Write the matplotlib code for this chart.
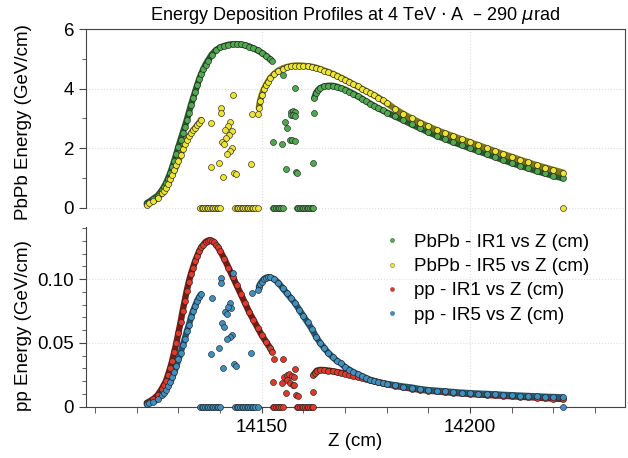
import numpy as np
import matplotlib
matplotlib.use("Agg")
from matplotlib import pyplot as plt
from matplotlib.ticker import MultipleLocator

plt.rcParams['font.family'] = ['Liberation Sans', 'DejaVu Sans']
plt.rcParams['mathtext.fontset'] = 'dejavusans'

# ---- data (z in cm, energy in GeV/cm) ----

# PbPb IR1 (green)
pbpb_ir1_seg1 = [(14122.4, 0.15), (14123, 0.2), (14124, 0.3), (14125, 0.4), (14126, 0.58), (14126.5, 0.69),
                 (14127, 0.82), (14127.5, 0.98), (14128, 1.15), (14128.5, 1.36), (14129, 1.58), (14129.5, 1.81),
                 (14130, 2.05), (14130.5, 2.28), (14131, 2.5), (14131.5, 2.72), (14132, 2.95), (14132.5, 3.2),
                 (14133, 3.45), (14133.5, 3.68), (14134, 3.9), (14134.5, 4.12), (14135, 4.33), (14135.5, 4.51),
                 (14136, 4.67), (14136.5, 4.81), (14137, 4.93), (14138, 5.15), (14139, 5.3), (14140, 5.39),
                 (14141, 5.44), (14142, 5.48), (14143, 5.5), (14144, 5.5), (14145, 5.49), (14146, 5.46),
                 (14147, 5.42), (14148, 5.36), (14149, 5.29), (14150, 5.21), (14151, 5.11), (14152, 4.99),
                 (14152.4, 4.94)]
pbpb_ir1_seg2 = [(14162.6, 3.68), (14163, 3.85), (14163.5, 3.95), (14164, 4.02), (14165, 4.08), (14166, 4.1),
                 (14167, 4.1), (14168, 4.07), (14169, 4.02), (14170, 3.97), (14171, 3.9), (14172, 3.83),
                 (14173, 3.75), (14174, 3.67), (14175, 3.58), (14176, 3.5), (14177, 3.42), (14178, 3.34),
                 (14179, 3.27), (14180, 3.2), (14182, 3.07), (14184, 2.94), (14186, 2.8), (14188, 2.67),
                 (14190, 2.54), (14192, 2.42), (14194, 2.31), (14196, 2.2), (14198, 2.1), (14200, 2.0),
                 (14202, 1.9), (14204, 1.8), (14206, 1.7), (14208, 1.6), (14210, 1.5), (14212, 1.41),
                 (14214, 1.32), (14216, 1.23), (14218, 1.15), (14220, 1.07), (14222.3, 0.99)]
pbpb_ir1_scatter = [(14155.2, 4.46), (14158.1, 4.04), (14162.6, 3.2), (14157.0, 3.23), (14157.5, 3.25),
                    (14157.9, 3.22), (14157.0, 3.12), (14157.6, 3.1), (14158.0, 3.08), (14155.5, 2.87),
                    (14156.1, 2.69), (14152.6, 2.22), (14154.9, 2.14), (14156.8, 2.28), (14157.3, 2.28),
                    (14157.9, 2.25), (14162.2, 1.49), (14155.8, 1.3), (14158.2, 1.2), (14158.5, 1.16)]

# PbPb IR5 (yellow)
pbpb_ir5_seg1 = [(14122.4, 0.1), (14123, 0.14), (14124, 0.22), (14125, 0.33), (14126, 0.48), (14126.5, 0.56),
                 (14127, 0.66), (14127.5, 0.8), (14128, 0.95), (14128.5, 1.1), (14129, 1.25), (14129.5, 1.42),
                 (14130, 1.58), (14130.5, 1.78), (14131, 1.98), (14131.5, 2.14), (14132, 2.28), (14132.5, 2.4),
                 (14133, 2.5), (14133.5, 2.6), (14134, 2.68), (14134.5, 2.77), (14135, 2.86), (14135.4, 2.95)]
pbpb_ir5_seg2 = [(14149.3, 3.35), (14149.6, 3.6), (14150, 3.8), (14150.5, 3.98), (14151, 4.12), (14151.5, 4.24),
                 (14152, 4.35), (14153, 4.5), (14154, 4.61), (14155, 4.68), (14156, 4.73), (14157, 4.76),
                 (14158, 4.78), (14159, 4.78), (14160, 4.77), (14161, 4.76), (14162, 4.74), (14163, 4.71),
                 (14164, 4.66), (14165, 4.61), (14166, 4.56), (14167, 4.5), (14168, 4.44), (14169, 4.37),
                 (14170, 4.3), (14171, 4.23), (14172, 4.15), (14173, 4.08), (14174, 4.0), (14175, 3.93),
                 (14176, 3.85), (14177, 3.78), (14178, 3.7), (14179, 3.61), (14180, 3.52), (14182, 3.32),
                 (14184, 3.15), (14186, 3.0), (14188, 2.86), (14190, 2.73), (14192, 2.61), (14194, 2.5),
                 (14196, 2.4), (14198, 2.3), (14200, 2.2), (14202, 2.1), (14204, 2.0), (14206, 1.9),
                 (14208, 1.8), (14210, 1.71), (14212, 1.61), (14214, 1.52), (14216, 1.43), (14218, 1.35),
                 (14220, 1.27), (14222.3, 1.18)]
pbpb_ir5_scatter = [(14137.9, 2.84), (14140.2, 3.36), (14140.2, 3.2), (14143.0, 3.79), (14142.4, 2.89),
                    (14141.8, 2.76), (14141.2, 2.61), (14142.8, 2.58), (14142.2, 2.45), (14141.4, 2.33),
                    (14140.4, 2.2), (14141.0, 2.14), (14142.9, 2.0), (14142.4, 1.92), (14141.7, 1.81),
                    (14137.8, 1.36), (14139.8, 1.49), (14140.8, 1.02), (14143.3, 1.18), (14143.8, 1.12),
                    (14147.4, 1.47), (14147.6, 3.14), (14149.1, 3.14)]

# pp IR1 (red)
pp_ir1_seg1 = [(14122.4, 0.003), (14123, 0.004), (14124, 0.006), (14125, 0.009), (14126, 0.014), (14126.5, 0.017),
               (14127, 0.02), (14127.5, 0.025), (14128, 0.03), (14128.5, 0.036), (14129, 0.043), (14129.5, 0.05),
               (14130, 0.058), (14130.5, 0.066), (14131, 0.075), (14131.5, 0.083), (14132, 0.091), (14132.5, 0.098),
               (14133, 0.104), (14133.5, 0.109), (14134, 0.114), (14134.5, 0.118), (14135, 0.122), (14135.5, 0.125),
               (14136, 0.127), (14136.5, 0.129), (14137, 0.13), (14137.5, 0.1305), (14138, 0.13), (14138.5, 0.129),
               (14139, 0.127), (14139.5, 0.125), (14140, 0.122), (14141, 0.116), (14142, 0.109), (14143, 0.102),
               (14144, 0.095), (14145, 0.088), (14146, 0.081), (14147, 0.074), (14148, 0.068), (14149, 0.062),
               (14150, 0.056), (14151, 0.051), (14152, 0.046), (14152.5, 0.043)]
pp_ir1_seg2 = [(14162.4, 0.0248), (14162.8, 0.0265), (14163.2, 0.0282), (14164, 0.0288), (14165, 0.0287),
               (14166, 0.0283), (14167, 0.0278), (14168, 0.0272), (14169, 0.0266), (14170, 0.026), (14171, 0.0252),
               (14172, 0.0243), (14173, 0.0235), (14174, 0.0228), (14175, 0.022), (14176, 0.021), (14177, 0.0201),
               (14178, 0.0193), (14179, 0.0185), (14180, 0.0177), (14182, 0.0164), (14184, 0.0152), (14186, 0.0142),
               (14188, 0.0133), (14190, 0.0126), (14192, 0.012), (14194, 0.0114), (14196, 0.0109), (14198, 0.0104),
               (14200, 0.01), (14202, 0.0096), (14204, 0.0092), (14206, 0.0089), (14208, 0.0085), (14210, 0.0082),
               (14212, 0.0078), (14214, 0.0075), (14216, 0.0071), (14218, 0.0068), (14220, 0.0064), (14222.4, 0.006)]
pp_ir1_scatter = [(14152.95, 0.0371), (14155.2, 0.0374), (14158.1, 0.0295), (14155.4, 0.0235), (14156.1, 0.0248),
                  (14156.6, 0.0254), (14157.2, 0.0241), (14157.8, 0.023), (14156.0, 0.0209), (14156.8, 0.0188),
                  (14157.4, 0.017), (14157.8, 0.017), (14152.6, 0.0191), (14154.9, 0.0183), (14155.8, 0.0105),
                  (14158.2, 0.0092), (14158.8, 0.0084), (14162.2, 0.0113)]

# pp IR5 (blue)
pp_ir5_seg1 = [(14122.4, 0.002), (14123, 0.003), (14124, 0.004), (14125, 0.006), (14126, 0.009), (14126.5, 0.011),
               (14127, 0.013), (14127.5, 0.016), (14128, 0.019), (14128.5, 0.023), (14129, 0.027), (14129.5, 0.032),
               (14130, 0.037), (14130.5, 0.042), (14131, 0.048), (14131.5, 0.053), (14132, 0.059), (14132.5, 0.064),
               (14133, 0.07), (14133.5, 0.075), (14134, 0.079), (14134.5, 0.083), (14135, 0.086), (14135.4, 0.088)]
pp_ir5_seg2 = [(14149.3, 0.094), (14149.6, 0.096), (14150, 0.098), (14150.5, 0.1), (14151, 0.101), (14151.6, 0.1015),
               (14152, 0.1013), (14153, 0.1), (14154, 0.097), (14155, 0.093), (14156, 0.089), (14157, 0.085),
               (14158, 0.081), (14159, 0.076), (14160, 0.071), (14161, 0.066), (14162, 0.061), (14163, 0.055),
               (14164, 0.05), (14165, 0.046), (14166, 0.042), (14167, 0.039), (14168, 0.036), (14169, 0.034),
               (14170, 0.031), (14171, 0.029), (14172, 0.027), (14173, 0.0255), (14174, 0.024), (14175, 0.0225),
               (14176, 0.021), (14177, 0.02), (14178, 0.019), (14179, 0.0184), (14180, 0.0178), (14182, 0.0168),
               (14184, 0.0158), (14186, 0.015), (14188, 0.0138), (14190, 0.013), (14192, 0.0125), (14194, 0.012),
               (14196, 0.0115), (14198, 0.011), (14200, 0.0106), (14202, 0.0103), (14204, 0.01), (14206, 0.0097),
               (14208, 0.0093), (14210, 0.009), (14212, 0.0087), (14214, 0.0084), (14216, 0.0081), (14218, 0.0078),
               (14220, 0.0076), (14222.3, 0.0073)]
pp_ir5_scatter = [(14138.0, 0.0854), (14140.2, 0.101), (14140.2, 0.0972), (14143.2, 0.1045), (14142.4, 0.081),
                  (14142.6, 0.077), (14141.8, 0.078), (14141.2, 0.0745), (14141.6, 0.0724), (14140.4, 0.0653),
                  (14141.0, 0.0622), (14142.9, 0.0562), (14142.4, 0.0549), (14141.7, 0.053), (14137.8, 0.041),
                  (14139.8, 0.0458), (14140.8, 0.0306), (14143.3, 0.0335), (14143.8, 0.032), (14147.4, 0.0423),
                  (14147.6, 0.0893), (14149.2, 0.0915)]

# z positions where the deposited energy is zero
ir1_zero_z = [14152.6, 14153.0, 14153.4, 14153.8, 14154.2, 14154.6, 14155.0, 14158.4, 14158.8, 14159.2,
              14159.6, 14160.0, 14160.4, 14160.8, 14161.2, 14161.6, 14162.0, 14162.3]
ir5_zero_z = [14135.2, 14135.6, 14136.0, 14136.4, 14136.8, 14137.2, 14137.6, 14138.0, 14138.4, 14138.8,
              14139.2, 14139.6, 14140.0, 14143.6, 14144.0, 14144.4, 14144.8, 14145.2, 14145.6, 14146.0,
              14146.4, 14146.8, 14147.2, 14147.6, 14148.0, 14148.4, 14149.0, 14222.3]

labels = ["PbPb - IR1 vs Z (cm)", "PbPb - IR5 vs Z (cm)", "pp - IR1 vs Z (cm)", "pp - IR5 vs Z (cm)"]

FS = 13.5


def draw_series(ax, segments, scatter, zeros, face, band, label):
    for seg in segments:
        z, v = np.array(seg).T
        # dense bead chain: dark band underneath, markers on top
        ax.plot(z, v, '-', color=band, lw=4.6, solid_capstyle='round', zorder=2, clip_on=False)
        ax.plot(z, v, 'o', ms=4.3, mfc=face, mec='#262626', mew=0.45, zorder=3, clip_on=False)
    z, v = np.array(scatter).T
    ax.plot(z, v, 'o', ms=4.3, mfc=face, mec='#262626', mew=0.45, zorder=3)
    zz = np.array(zeros)
    ax.plot(zz, np.zeros_like(zz), 'o', ms=4.3, mfc=face, mec='#262626', mew=0.45, zorder=3, clip_on=False)
    # handle for the legend
    return ax.plot([], [], 'o', ms=3, mfc=face, mec='#555555', mew=0.3, label=label)[0]


fig = plt.figure(figsize=(6.28, 4.58), dpi=100)
ax_top = fig.add_axes([0.1369, 0.5044, 0.8583, 0.4317])
ax_bot = fig.add_axes([0.1369, 0.1120, 0.8583, 0.3924], sharex=ax_top)

handles = []
handles.append(draw_series(ax_top, [pbpb_ir1_seg1, pbpb_ir1_seg2], pbpb_ir1_scatter, ir1_zero_z,
                           '#4fa94f', '#2a5a2a', labels[0]))
handles.append(draw_series(ax_top, [pbpb_ir5_seg1, pbpb_ir5_seg2], pbpb_ir5_scatter, ir5_zero_z,
                           '#eee433', '#7f7814', labels[1]))
handles.append(draw_series(ax_bot, [pp_ir1_seg1, pp_ir1_seg2], pp_ir1_scatter, ir1_zero_z,
                           '#de3a2c', '#761a12', labels[2]))
handles.append(draw_series(ax_bot, [pp_ir5_seg1, pp_ir5_seg2], pp_ir5_scatter, ir5_zero_z,
                           '#3f8fbf', '#255672', labels[3]))

spine_col = '#444444'
for ax in (ax_top, ax_bot):
    for s in ax.spines.values():
        s.set_color(spine_col)
        s.set_linewidth(0.8)
    ax.grid(True, which='major', color='#dcdcdc', linestyle=':', linewidth=0.8)
    ax.set_axisbelow(True)
    ax.tick_params(which='both', direction='out', color=spine_col, labelsize=FS)

ax_top.set_xlim(14107.8, 14237.2)
ax_top.set_ylim(-0.65, 6)
ax_top.spines['bottom'].set_visible(False)
ax_top.spines['left'].set_bounds(0, 6)
ax_top.yaxis.set_major_locator(MultipleLocator(2))
ax_top.yaxis.set_minor_locator(MultipleLocator(1))
ax_top.tick_params(axis='x', which='both', bottom=False, labelbottom=False)
ax_top.tick_params(axis='y', which='major', length=5)
ax_top.tick_params(axis='y', which='minor', length=3)
ax_top.set_ylabel('PbPb Energy (GeV/cm)', fontsize=FS)
ax_top.yaxis.set_label_coords(-0.10, 0.53)

ax_bot.set_ylim(0, 0.1408)
ax_bot.spines['top'].set_visible(False)
ax_bot.yaxis.set_major_locator(MultipleLocator(0.05))
ax_bot.yaxis.set_minor_locator(MultipleLocator(0.01))
ax_bot.yaxis.set_major_formatter(lambda x, pos: '0' if x == 0 else f'{x:.2f}')
ax_bot.xaxis.set_major_locator(MultipleLocator(50))
ax_bot.xaxis.set_minor_locator(MultipleLocator(10))
ax_bot.xaxis.set_major_formatter(lambda x, pos: f'{x:.0f}')
ax_bot.tick_params(axis='y', which='major', length=5)
ax_bot.tick_params(axis='y', which='minor', length=3)
ax_bot.tick_params(axis='x', which='both', length=4, pad=5)
ax_bot.set_ylabel('pp Energy (GeV/cm)', fontsize=FS)
ax_bot.yaxis.set_label_coords(-0.10, 0.45)
ax_bot.set_xlabel('Z (cm)', fontsize=FS, labelpad=-2)

fig.suptitle('Energy Deposition Profiles at 4 TeV $\\cdot$ A  \u2013 290 $\\mu$rad', x=0.565, y=0.99,
             fontsize=13)

fig.legend(handles=handles, loc='upper left', bbox_to_anchor=(0.600, 0.51), frameon=False,
           fontsize=FS, handlelength=0.6, handletextpad=0.9, labelspacing=0.38, borderpad=0)

fig.savefig('out.png', dpi=100)
